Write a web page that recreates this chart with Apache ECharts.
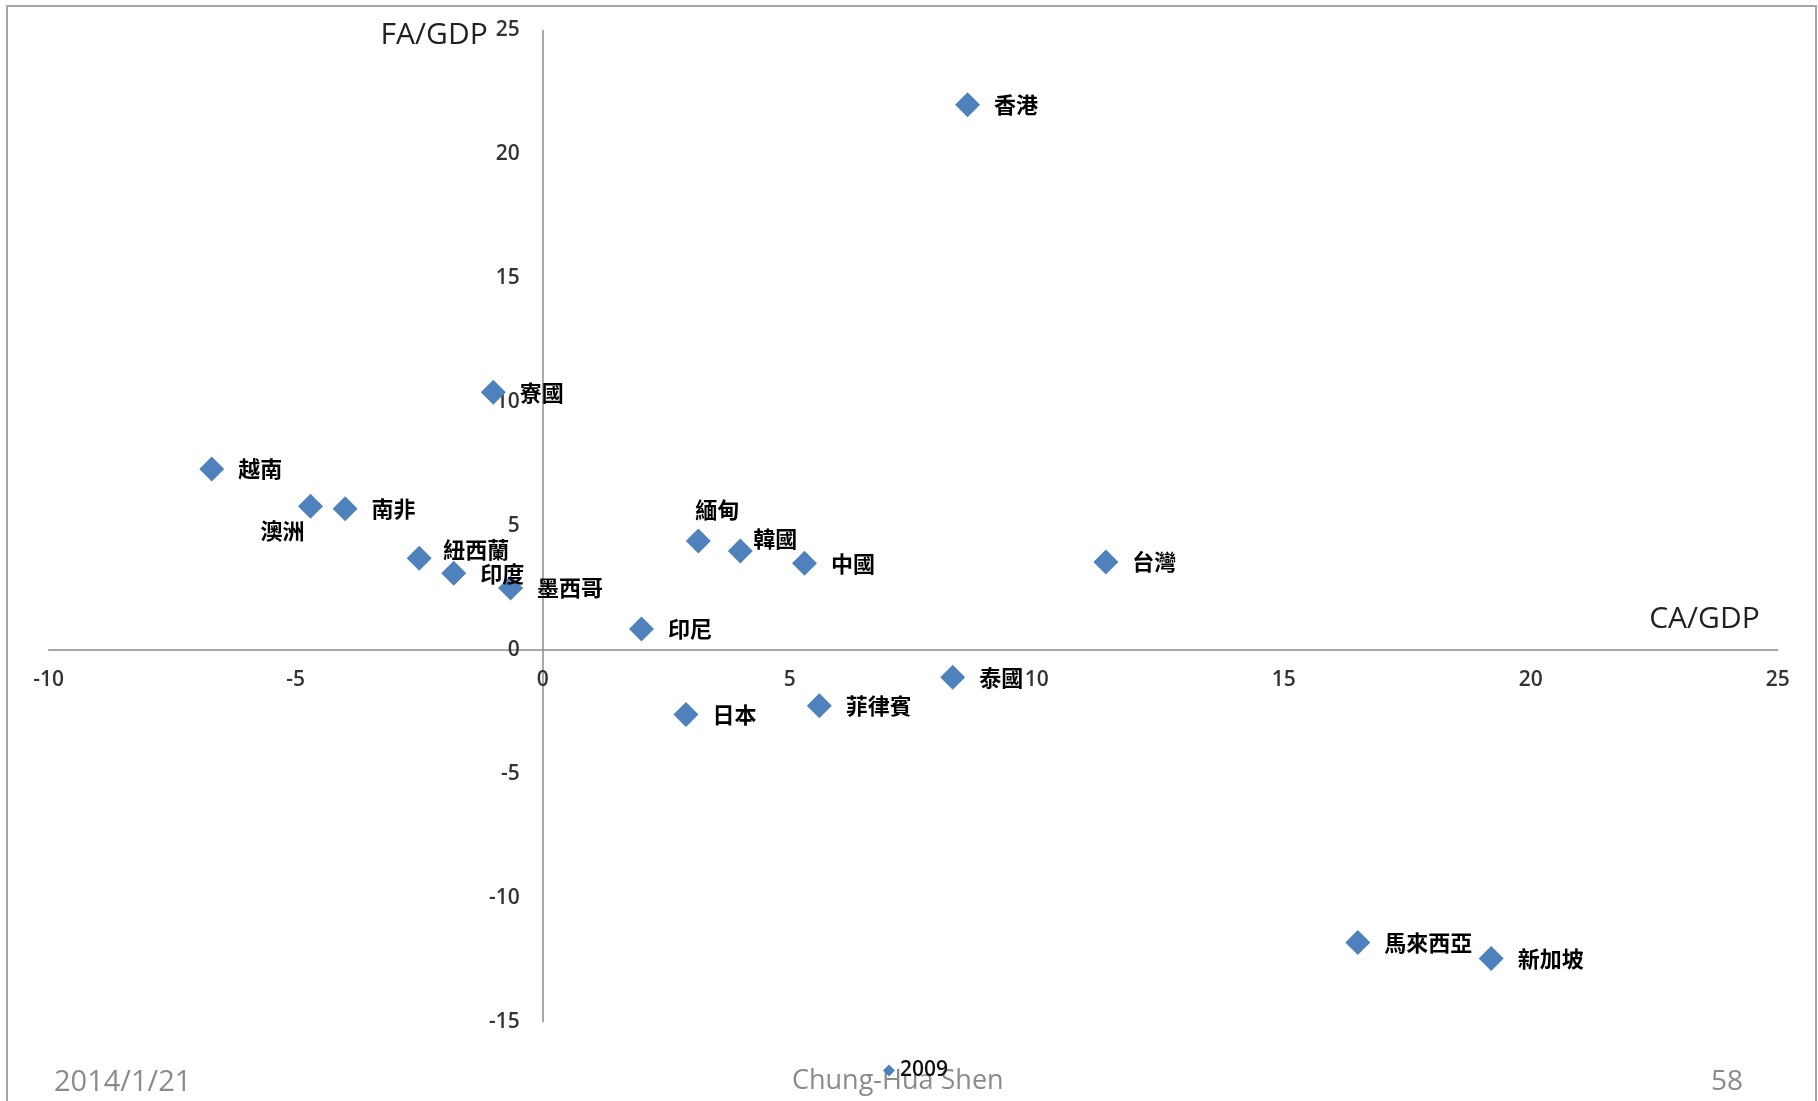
<!DOCTYPE html>
<html>
<head>
<meta charset="utf-8">
<title>CA/GDP vs FA/GDP 2009</title>
<script src="https://cdn.jsdelivr.net/npm/echarts@6/dist/echarts.min.js"></script>
<style>
  html, body { margin: 0; padding: 0; background: #fff; }
  #chart { width: 1818px; height: 1101px; }
</style>
</head>
<body>
<div id="chart"></div>
<script>
// Current account and financial account balances (% of GDP), 2009
const seriesName = '2009';
const countries = ['香港', '寮國', '越南', '澳洲', '南非', '紐西蘭', '印度', '墨西哥', '印尼',
                   '緬甸', '韓國', '中國', '台灣', '泰國', '日本', '菲律賓', '馬來西亞', '新加坡'];
const caGdp = [8.6, -1.0, -6.7, -4.7, -4.0, -2.5, -1.8, -0.65, 2.0,
               3.15, 4.0, 5.3, 11.4, 8.3, 2.9, 5.6, 16.5, 19.2];
const faGdp = [22.0, 10.4, 7.3, 5.8, 5.7, 3.7, 3.1, 2.5, 0.85,
               4.4, 4.0, 3.5, 3.55, -1.1, -2.6, -2.25, -11.8, -12.45];

const xTicks = { min: -10, max: 25, step: 5 };
const yTicks = { min: -15, max: 25, step: 5 };

const footerLeft = '2014/1/21';
const footerCenter = 'Chung-Hua Shen';
const footerRight = '58';

// labels that sit somewhere other than to the right of their marker
const labelOverrides = {
  '澳洲':   { position: 'inside', offset: [-28, 24] },
  '紐西蘭': { position: 'inside', offset: [57, -9] },
  '緬甸':   { position: 'inside', offset: [19, -31] },
  '韓國':   { position: 'inside', offset: [35, -12] }
};

const points = countries.map((name, i) => {
  const item = { name: name, value: [caGdp[i], faGdp[i]] };
  if (labelOverrides[name]) item.label = labelOverrides[name];
  return item;
});

// plot box
const W = 1818, H = 1101;
const grid = { left: 48.7, right: 40.3, top: 30.5, bottom: 79.3 };
const gridW = W - grid.left - grid.right;
const gridH = H - grid.top - grid.bottom;
// axes cross at the origin: shift each axis (with its labels) in from the grid edge
const yAxisShift = (0 - xTicks.min) / (xTicks.max - xTicks.min) * gridW;
const xAxisShift = (0 - yTicks.min) / (yTicks.max - yTicks.min) * gridH;

const latin = '"Open Sans", sans-serif';
const cjk = '"Noto Sans CJK TC", "Noto Sans CJK SC", sans-serif';
const tickFont = { fontFamily: latin, fontSize: 21, fontWeight: 600, color: '#333' };
const axisLineStyle = { color: '#8c8c8c', width: 1.5 };

const chart = echarts.init(document.getElementById('chart'), null, { renderer: 'canvas' });

chart.setOption({
  backgroundColor: '#fff',
  animation: false,
  grid: Object.assign({ containLabel: false, outerBoundsMode: 'none' }, grid),
  legend: {
    data: [seriesName],
    left: 878, top: 1055,
    icon: 'diamond', itemWidth: 12, itemHeight: 12, itemGap: 4,
    textStyle: { fontFamily: latin, fontSize: 21, fontWeight: 600, color: '#111', padding: [0, 0, 0, 0] }
  },
  xAxis: {
    type: 'value', min: xTicks.min, max: xTicks.max, interval: xTicks.step,
    position: 'bottom', offset: -xAxisShift,
    name: 'CA/GDP', nameLocation: 'end', nameGap: -18,
    nameTextStyle: { fontFamily: latin, fontSize: 30, color: '#222',
                     align: 'right', verticalAlign: 'bottom', padding: [0, 0, 16, 0] },
    axisLine: { show: true, onZero: false, lineStyle: axisLineStyle },
    axisTick: { show: false },
    splitLine: { show: false },
    axisLabel: Object.assign({ margin: 20, showMinLabel: true, showMaxLabel: true }, tickFont)
  },
  yAxis: {
    type: 'value', min: yTicks.min, max: yTicks.max, interval: yTicks.step,
    position: 'left', offset: -yAxisShift,
    name: 'FA/GDP', nameLocation: 'end', nameGap: -5,
    nameTextStyle: { fontFamily: latin, fontSize: 30, color: '#222',
                     align: 'right', verticalAlign: 'middle', padding: [0, 55, 0, 0] },
    axisLine: { show: true, onZero: false, lineStyle: axisLineStyle },
    axisTick: { show: false },
    splitLine: { show: false },
    axisLabel: Object.assign({ margin: 23, showMinLabel: true, showMaxLabel: true }, tickFont)
  },
  series: [{
    name: seriesName,
    type: 'scatter',
    symbol: 'diamond',
    symbolSize: 25,
    itemStyle: { color: '#4F81BD', opacity: 1 },
    label: {
      show: true,
      position: 'right',
      distance: 14,
      formatter: '{b}',
      fontFamily: cjk,
      fontSize: 22,
      fontWeight: 'bold',
      color: '#000'
    },
    emphasis: { disabled: true },
    data: points,
    z: 3
  }],
  graphic: [
    {
      type: 'rect', silent: true, z: -1,
      shape: { x: 7, y: 6, width: 1809, height: 1110 },
      style: { fill: 'none', stroke: '#a6a6a6', lineWidth: 2 }
    },
    {
      type: 'text', left: 54, top: 1068, z: 0,
      style: { text: footerLeft, fontFamily: latin, fontSize: 29, fill: '#8b8b8b' }
    },
    {
      type: 'text', left: 792, top: 1068, z: 0,
      style: { text: footerCenter, fontFamily: latin, fontSize: 27, fill: '#8b8b8b' }
    },
    {
      type: 'text', left: 1711, top: 1068, z: 0,
      style: { text: footerRight, fontFamily: latin, fontSize: 28, fill: '#8b8b8b' }
    }
  ]
});
</script>
</body>
</html>
